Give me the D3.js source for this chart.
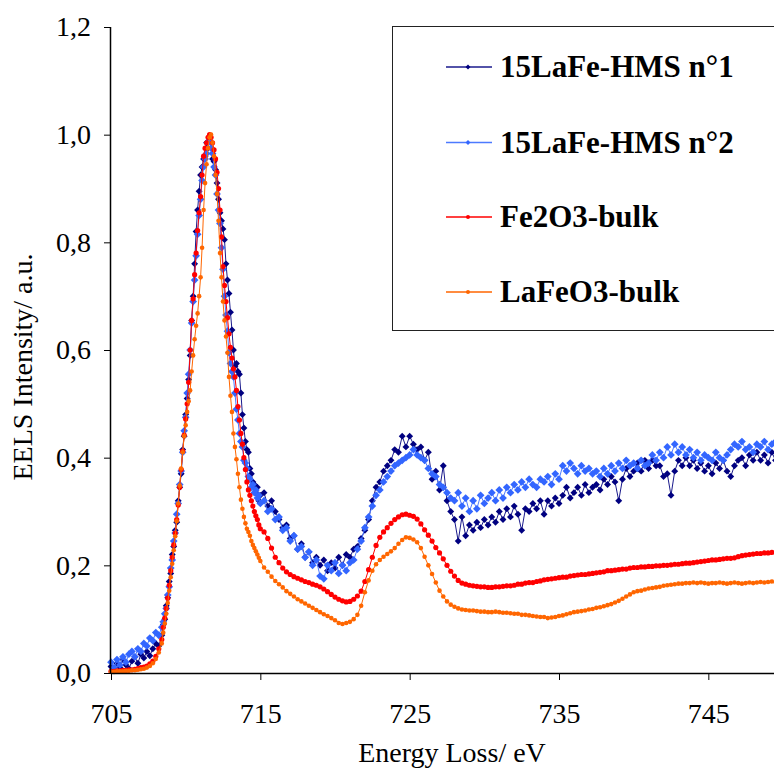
<!DOCTYPE html>
<html><head><meta charset="utf-8">
<script src="https://cdn.jsdelivr.net/npm/d3@7"></script>
<style>body{margin:0;background:#fff;} svg{display:block;} text{font-family:"Liberation Serif","Times New Roman",serif;}</style>
</head><body>
<svg id="chart" width="774" height="771"></svg>
<script>
// ---------------- DATA ----------------
// Energy grid (eV): 705–708.4 every 0.2, 708.5–715 every 0.1, 715.25–750 every 0.25
const energy = [
  ...d3.range(18).map(i => +(705 + 0.2 * i).toFixed(2)),
  ...d3.range(66).map(i => +(708.5 + 0.1 * i).toFixed(2)),
  ...d3.range(140).map(i => +(715.25 + 0.25 * i).toFixed(2))
];

const hms1 = [
  0.012,0.005,0.018,0.010,0.025,0.015,0.008,0.022,0.030,0.018,0.035,0.028,0.040,0.032,0.045,0.055,0.050,0.070,
  0.090,0.100,0.125,0.140,0.170,0.185,0.220,0.235,0.265,0.280,
  0.320,0.345,0.370,0.415,0.440,0.480,0.510,0.545,0.590,0.655,
  0.700,0.760,0.820,0.860,0.895,0.925,0.940,0.955,0.960,0.985,
  0.975,0.995,0.985,0.955,0.950,0.935,0.910,0.880,0.855,0.840,
  0.825,0.805,0.760,0.730,0.705,0.670,0.637,0.600,0.570,0.575,
  0.560,0.555,0.520,0.480,0.455,0.430,0.415,0.410,0.380,0.370,
  0.355,0.350,0.335,0.345,0.320,0.330,
  0.335,0.310,0.320,0.300,0.285,0.270,0.275,0.250,
  0.255,0.230,0.240,0.215,0.225,0.205,0.215,0.200,
  0.210,0.190,0.205,0.195,0.215,0.200,0.220,0.215,
  0.230,0.235,0.250,0.265,0.285,0.320,0.345,0.355,
  0.375,0.385,0.395,0.415,0.410,0.440,0.420,0.440,
  0.425,0.415,0.420,0.395,0.410,0.360,0.375,0.340,
  0.385,0.320,0.300,0.285,0.245,0.290,0.255,0.275,
  0.265,0.280,0.270,0.285,0.275,0.290,0.280,0.300,
  0.285,0.305,0.290,0.310,0.295,0.265,0.305,0.300,
  0.315,0.305,0.320,0.295,0.320,0.310,0.325,0.315,
  0.330,0.345,0.325,0.335,0.345,0.330,0.350,0.335,
  0.345,0.350,0.340,0.360,0.350,0.365,0.355,0.320,
  0.360,0.380,0.365,0.375,0.390,0.375,0.395,0.380,
  0.395,0.385,0.385,0.365,0.370,0.330,0.375,0.395,
  0.385,0.400,0.385,0.395,0.380,0.390,0.375,0.385,
  0.370,0.390,0.380,0.395,0.375,0.365,0.385,0.395,
  0.400,0.385,0.405,0.395,0.410,0.395,0.405,0.390,
  0.410,0.395,0.405,0.400
];

const hms2 = [
  0.020,0.010,0.025,0.015,0.030,0.020,0.035,0.040,0.030,0.045,0.040,0.055,0.050,0.065,0.060,0.075,0.070,0.085,
  0.095,0.110,0.120,0.145,0.160,0.195,0.210,0.245,0.260,0.295,
  0.315,0.350,0.375,0.410,0.450,0.475,0.520,0.555,0.600,0.650,
  0.690,0.730,0.775,0.815,0.850,0.880,0.915,0.940,0.955,0.965,
  0.985,0.990,0.975,0.965,0.940,0.925,0.890,0.860,0.835,0.790,
  0.750,0.700,0.665,0.635,0.595,0.575,0.560,0.550,0.520,0.490,
  0.470,0.445,0.430,0.420,0.395,0.390,0.380,0.365,0.360,0.345,
  0.350,0.335,0.340,0.325,0.330,0.315,
  0.320,0.300,0.305,0.285,0.290,0.265,0.270,0.245,
  0.255,0.230,0.235,0.215,0.225,0.200,0.210,0.180,
  0.175,0.200,0.190,0.205,0.185,0.200,0.190,0.205,
  0.210,0.230,0.245,0.270,0.290,0.310,0.330,0.340,
  0.355,0.365,0.375,0.385,0.390,0.395,0.400,0.405,
  0.415,0.405,0.400,0.395,0.380,0.370,0.365,0.350,
  0.345,0.335,0.325,0.320,0.335,0.310,0.325,0.300,
  0.320,0.305,0.330,0.315,0.325,0.335,0.320,0.340,
  0.325,0.345,0.335,0.350,0.340,0.355,0.345,0.360,
  0.350,0.345,0.360,0.355,0.365,0.350,0.370,0.360,
  0.385,0.375,0.390,0.380,0.370,0.385,0.375,0.380,
  0.370,0.375,0.365,0.380,0.370,0.385,0.375,0.390,
  0.380,0.395,0.385,0.390,0.380,0.395,0.385,0.390,
  0.405,0.395,0.410,0.400,0.420,0.405,0.425,0.410,
  0.420,0.405,0.415,0.400,0.410,0.395,0.405,0.400,
  0.395,0.410,0.400,0.395,0.405,0.415,0.425,0.420,
  0.430,0.415,0.420,0.410,0.425,0.420,0.430,0.415,
  0.425,0.430,0.420,0.435
];

const fe2o3 = [
  0.003,0.003,0.004,0.004,0.005,0.005,0.006,0.006,0.007,0.008,0.010,0.011,0.013,0.017,0.022,0.031,0.045,0.062,
  0.085,0.102,0.120,0.139,0.163,0.190,0.215,0.238,0.260,0.285,
  0.312,0.345,0.378,0.412,0.442,0.472,0.500,0.540,0.600,0.655,
  0.695,0.740,0.780,0.822,0.855,0.885,0.925,0.960,0.975,0.985,
  0.995,1.000,0.995,0.985,0.972,0.955,0.930,0.900,0.860,0.810,
  0.755,0.720,0.690,0.660,0.630,0.605,0.585,0.565,0.550,0.525,
  0.495,0.470,0.445,0.425,0.400,0.378,0.355,0.340,0.330,0.320,
  0.310,0.300,0.292,0.285,0.275,0.268,
  0.262,0.250,0.232,0.215,0.205,0.195,0.188,0.183,
  0.179,0.176,0.173,0.170,0.168,0.165,0.163,0.160,
  0.156,0.151,0.146,0.141,0.137,0.134,0.132,0.133,
  0.137,0.143,0.152,0.170,0.192,0.215,0.237,0.252,
  0.262,0.270,0.278,0.285,0.290,0.294,0.295,0.293,
  0.291,0.286,0.277,0.266,0.256,0.245,0.233,0.223,
  0.212,0.200,0.189,0.180,0.172,0.167,0.165,0.163,
  0.162,0.161,0.160,0.160,0.159,0.159,0.160,0.160,
  0.161,0.162,0.162,0.163,0.165,0.165,0.167,0.168,
  0.168,0.170,0.171,0.173,0.174,0.175,0.176,0.177,
  0.178,0.178,0.180,0.181,0.182,0.183,0.183,0.184,
  0.185,0.186,0.187,0.188,0.190,0.190,0.191,0.192,
  0.193,0.193,0.195,0.196,0.196,0.197,0.197,0.198,
  0.198,0.199,0.199,0.200,0.200,0.201,0.202,0.202,
  0.203,0.204,0.204,0.205,0.206,0.207,0.208,0.209,
  0.210,0.210,0.211,0.212,0.213,0.213,0.214,0.216,
  0.218,0.219,0.220,0.221,0.222,0.222,0.223,0.223,
  0.224,0.224,0.225,0.225
];

const lafeo3 = [
  0.002,0.002,0.003,0.003,0.003,0.004,0.004,0.005,0.005,0.006,0.007,0.008,0.010,0.013,0.018,0.026,0.038,0.055,
  0.075,0.092,0.110,0.130,0.153,0.178,0.203,0.228,0.254,0.282,
  0.315,0.348,0.380,0.410,0.440,0.460,0.485,0.505,0.525,0.560,
  0.590,0.620,0.645,0.668,0.700,0.735,0.790,0.860,0.910,0.945,
  0.975,0.995,1.000,0.985,0.960,0.925,0.890,0.840,0.780,0.735,
  0.690,0.655,0.625,0.595,0.550,0.515,0.485,0.445,0.420,0.397,
  0.370,0.345,0.322,0.305,0.290,0.278,0.268,0.262,0.255,0.245,
  0.238,0.232,0.226,0.220,0.214,0.208,
  0.196,0.188,0.179,0.171,0.165,0.159,0.152,0.147,
  0.142,0.137,0.133,0.129,0.125,0.121,0.117,0.113,
  0.109,0.106,0.102,0.098,0.093,0.091,0.093,0.095,
  0.100,0.108,0.125,0.150,0.172,0.190,0.202,0.210,
  0.216,0.221,0.226,0.232,0.240,0.247,0.252,0.251,
  0.248,0.243,0.232,0.216,0.200,0.184,0.168,0.153,
  0.142,0.133,0.127,0.123,0.120,0.118,0.117,0.116,
  0.116,0.115,0.114,0.114,0.113,0.113,0.114,0.113,
  0.112,0.112,0.111,0.110,0.110,0.108,0.108,0.107,
  0.106,0.105,0.104,0.104,0.102,0.103,0.104,0.106,
  0.107,0.109,0.111,0.113,0.114,0.115,0.116,0.118,
  0.119,0.121,0.122,0.124,0.126,0.128,0.131,0.134,
  0.138,0.142,0.146,0.150,0.152,0.153,0.155,0.157,
  0.158,0.159,0.160,0.162,0.163,0.164,0.165,0.166,
  0.166,0.167,0.167,0.168,0.167,0.168,0.167,0.166,
  0.167,0.167,0.168,0.167,0.166,0.167,0.168,0.167,
  0.166,0.167,0.168,0.167,0.168,0.169,0.168,0.169,
  0.170,0.169,0.170,0.170
];

const seriesNames = ['15LaFe-HMS n°1', '15LaFe-HMS n°2', 'Fe2O3-bulk', 'LaFeO3-bulk'];
const xTicks = [705, 715, 725, 735, 745];
const yTicks = [0, 0.2, 0.4, 0.6, 0.8, 1.0, 1.2];
const xTitle = 'Energy Loss/ eV';
const yTitle = 'EELS Intensity/ a.u.';

// ---------------- STYLE ----------------
const styles = [
  {color: '#000080', line: '#1a1a8c', shape: 'diamond', size: 24},
  {color: '#3366FF', line: '#4d7aff', shape: 'diamond', size: 30},
  {color: '#FF0000', line: '#FF0000', shape: 'circle', size: 2.6},
  {color: '#FF6600', line: '#FF6600', shape: 'circle', size: 2.3}
];
const FONT = '"Liberation Serif", "Times New Roman", serif';

const svg = d3.select('#chart');
const x = d3.scaleLinear().domain([705, 750]).range([111, 783]);
const y = d3.scaleLinear().domain([0, 1.2]).range([673, 27]);
const fmt = d => d3.format('.1f')(d).replace('.', ',');

// series
const allSeries = [hms1, hms2, fe2o3, lafeo3];
const plot = svg.append('g');
allSeries.forEach((vals, si) => {
  const st = styles[si];
  const n = Math.min(vals.length, energy.length);
  const pts = d3.range(n).map(i => [energy[i], vals[i]]);
  plot.append('path')
    .attr('d', d3.line().x(d => x(d[0])).y(d => y(d[1]))(pts))
    .attr('fill', 'none').attr('stroke', st.line).attr('stroke-width', 1);
  const g = plot.append('g').attr('fill', st.color);
  if (st.shape === 'diamond') {
    const sym = d3.symbol(d3.symbolSquare, st.size)();
    g.selectAll('path').data(pts).join('path')
      .attr('d', sym)
      .attr('transform', d => `translate(${x(d[0])},${y(d[1])}) rotate(45)`);
  } else {
    g.selectAll('circle').data(pts).join('circle')
      .attr('cx', d => x(d[0])).attr('cy', d => y(d[1])).attr('r', st.size);
  }
});

// axes
const gx = svg.append('g').attr('transform', 'translate(0,673)')
  .call(d3.axisBottom(x).tickValues(xTicks).tickSize(7).tickPadding(23).tickFormat(d3.format('d')));
gx.select('.domain').remove();
gx.append('line').attr('x1', 111).attr('x2', 774).attr('y1', 0.5).attr('y2', 0.5).attr('stroke', '#000').attr('stroke-width', 1.5);
gx.selectAll('.tick line').attr('stroke', '#000');
gx.selectAll('text').style('font-family', FONT).style('font-size', '28px').attr('fill', '#000');

const gy = svg.append('g').attr('transform', 'translate(111,0)')
  .call(d3.axisLeft(y).tickValues(yTicks).tickSize(7).tickPadding(13).tickFormat(fmt));
gy.select('.domain').remove();
gy.append('line').attr('x1', -0.5).attr('x2', -0.5).attr('y1', 27).attr('y2', 674).attr('stroke', '#000').attr('stroke-width', 1.5);
gy.selectAll('.tick line').attr('stroke', '#000');
gy.selectAll('text').style('font-family', FONT).style('font-size', '28px').attr('fill', '#000');

// titles
svg.append('text').attr('x', 452).attr('y', 762).attr('text-anchor', 'middle')
  .style('font-family', FONT).style('font-size', '28px').text(xTitle);
svg.append('text').attr('transform', 'translate(32,367) rotate(-90)').attr('text-anchor', 'middle')
  .style('font-family', FONT).style('font-size', '28px').text(yTitle);

// legend
const lg = svg.append('g');
lg.append('rect').attr('x', 392.5).attr('y', 26.5).attr('width', 420).attr('height', 304)
  .attr('fill', '#fff').attr('stroke', '#222').attr('stroke-width', 1);
const rowsY = [67, 142.5, 217, 292];
seriesNames.forEach((name, i) => {
  const st = styles[i];
  const ry = rowsY[i];
  lg.append('line').attr('x1', 446).attr('x2', 492).attr('y1', ry).attr('y2', ry)
    .attr('stroke', st.line).attr('stroke-width', 1.5);
  if (st.shape === 'diamond') {
    lg.append('path').attr('d', d3.symbol(d3.symbolSquare, 12)())
      .attr('transform', `translate(468,${ry}) rotate(45)`).attr('fill', st.color);
  } else {
    lg.append('circle').attr('cx', 468).attr('cy', ry).attr('r', 2).attr('fill', st.color);
  }
  lg.append('text').attr('x', 500).attr('y', ry + 10)
    .style('font-family', FONT).style('font-size', '31px').style('font-weight', 'bold').text(name);
});
</script>
</body></html>
